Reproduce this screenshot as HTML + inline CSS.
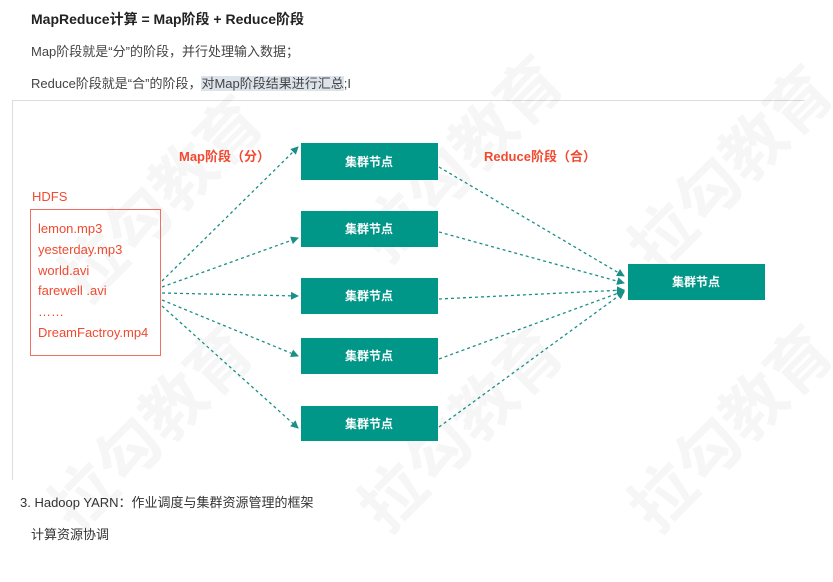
<!DOCTYPE html>
<html><head><meta charset="utf-8"><style>
body{margin:0;width:833px;height:582px;background:#fff;position:relative;overflow:hidden;font-family:"Liberation Sans","Noto Sans CJK SC",sans-serif;color:#333}
.t{position:absolute;white-space:nowrap}
.wm{position:absolute;font-size:64px;font-weight:bold;color:rgba(0,0,0,0.035);transform:rotate(-45deg);white-space:nowrap;font-family:"Noto Sans CJK SC",sans-serif}
</style></head><body>
<div class="t" style="left:31px;top:9px;font-size:14px;font-weight:bold;color:#222">MapReduce计算 = Map阶段 + Reduce阶段</div>
<div class="t" style="left:31px;top:41px;font-size:13px;color:#444">Map阶段就是“分”的阶段，并行处理输入数据；</div>
<div class="t" style="left:31px;top:73px;font-size:13px;color:#444">Reduce阶段就是“合”的阶段，<span style="background:#dde3ea">对Map阶段结果进行汇总</span>;I</div>
<div style="position:absolute;left:12px;top:100px;width:793px;height:1px;background:#ddd"></div>
<div style="position:absolute;left:12px;top:100px;width:1px;height:380px;background:#ddd"></div>
<div class="wm" style="left:30px;top:150px">拉勾教育</div>
<div class="wm" style="left:330px;top:110px">拉勾教育</div>
<div class="wm" style="left:600px;top:120px">拉勾教育</div>
<div class="wm" style="left:20px;top:380px">拉勾教育</div>
<div class="wm" style="left:330px;top:380px">拉勾教育</div>
<div class="wm" style="left:600px;top:380px">拉勾教育</div>
<svg width="833" height="582" style="position:absolute;left:0;top:0">
<defs><marker id="a" markerWidth="8" markerHeight="8" refX="7" refY="4" orient="auto" markerUnits="userSpaceOnUse"><path d="M0,0L8,4L0,8z" fill="#1a8f88"/></marker></defs>
<g stroke="#1a8f88" stroke-width="1.3" stroke-dasharray="3,3" fill="none" marker-end="url(#a)">
<line x1="162" y1="281" x2="298" y2="147"/>
<line x1="162" y1="287" x2="298" y2="238"/>
<line x1="162" y1="293" x2="298" y2="296"/>
<line x1="162" y1="300" x2="298" y2="356"/>
<line x1="162" y1="306" x2="298" y2="428"/>
<line x1="439" y1="167" x2="624" y2="276"/>
<line x1="439" y1="232" x2="624" y2="283"/>
<line x1="439" y1="299" x2="624" y2="290"/>
<line x1="439" y1="359" x2="624" y2="291"/>
<line x1="439" y1="427" x2="624" y2="292"/>
</g>
<g fill="#009688">
<rect x="301" y="143" width="137" height="37"/>
<rect x="301" y="211" width="137" height="36"/>
<rect x="301" y="278" width="137" height="36"/>
<rect x="301" y="338" width="137" height="36"/>
<rect x="301" y="406" width="137" height="35"/>
<rect x="628" y="264" width="137" height="36"/>
</g>
<g fill="#fff" font-size="12" font-weight="bold" text-anchor="middle" font-family="Noto Sans CJK SC,sans-serif">
<text x="369" y="166">集群节点</text><text x="369" y="233">集群节点</text><text x="369" y="300">集群节点</text>
<text x="369" y="360">集群节点</text><text x="369" y="428">集群节点</text><text x="696" y="286">集群节点</text>
</g>
<rect x="30.5" y="209.5" width="130" height="146" fill="none" stroke="#f07060" stroke-width="1"/>
</svg>
<div class="t" style="left:179px;top:146px;font-size:13px;font-weight:bold;color:#f04a30">Map阶段（分）</div>
<div class="t" style="left:484px;top:146px;font-size:13px;font-weight:bold;color:#f04a30">Reduce阶段（合）</div>
<div class="t" style="left:32px;top:189px;font-size:13px;color:#f04a30">HDFS</div>
<div class="t" style="left:38px;top:219px;font-size:13px;color:#f04a30;line-height:20.8px">lemon.mp3<br>yesterday.mp3<br>world.avi<br>farewell .avi<br>……<br>DreamFactroy.mp4</div>
<div class="t" style="left:20px;top:492px;font-size:13px;color:#333">3. Hadoop YARN：作业调度与集群资源管理的框架</div>
<div class="t" style="left:31px;top:524px;font-size:13px;color:#333">计算资源协调</div>
</body></html>
